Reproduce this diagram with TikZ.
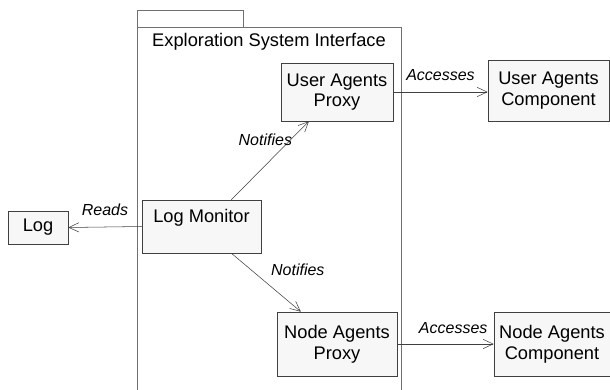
\documentclass[tikz,border=0pt]{standalone}
\usepackage{fontspec}
\setmainfont{Liberation Sans}
\usetikzlibrary{arrows.meta,calc}
\definecolor{boxfill}{HTML}{F7F7F7}
\definecolor{boxline}{HTML}{404040}
\definecolor{pkgline}{HTML}{707070}
\tikzset{
  comp/.style={draw=boxline, fill=boxfill, align=center, inner sep=2pt,
    font=\fontsize{13.7}{15.5}\selectfont},
  lbl/.style={font=\fontsize{12}{13}\selectfont\itshape, inner sep=1.5pt},
  dep/.style={draw=boxline, -{Straight Barb[length=7.5pt,width=7pt]}},
}
\begin{document}
\begin{tikzpicture}[x=0.75pt,y=-0.75pt]
  \useasboundingbox (0,0) rectangle (610,389);
  % package
  \draw[pkgline] (137,10) rectangle (243,27);
  \draw[pkgline] (137,395) -- (137,27) -- (401,27) -- (401,395);
  \node[font=\fontsize{13.7}{15.5}\selectfont] (pkg) at (269,42) {Exploration System Interface};
  % components
  \draw
    (337,92) node[comp, minimum width=112*0.75pt, minimum height=58*0.75pt] (uap) {User Agents\\Proxy}
    (548.5,90.5) node[comp, minimum width=121*0.75pt, minimum height=61*0.75pt] (uac) {User Agents\\Component}
    (38,227.5) node[comp, minimum width=60*0.75pt, minimum height=33*0.75pt] (log) {Log}
    (201.5,226.5) node[comp, minimum width=119*0.75pt, minimum height=53*0.75pt,
      label={[anchor=north, font=\fontsize{13.7}{15.5}\selectfont, inner sep=7pt]north:Log Monitor}] (lm) {}
    (337,344) node[comp, minimum width=120*0.75pt, minimum height=64*0.75pt] (nap) {Node Agents\\Proxy}
    (552,344) node[comp, minimum width=116*0.75pt, minimum height=64*0.75pt] (nac) {Node Agents\\Component};
  % dependencies
  \begin{scope}[every path/.style={dep}]
    \draw ($(lm.north)!0.5!(lm.north east)$) -- ($(uap.south)!0.5!(uap.south west)$)
      node[lbl, pos=0.76, anchor=east, xshift=3pt] {Notifies};
    \draw ($(lm.south)!0.5!(lm.south east)$) -- ($(nap.north)!0.6!(nap.north west)$)
      node[lbl, pos=0.29, anchor=west, xshift=13pt] {Notifies};
    \draw (lm.west) -- (log.east) node[lbl, midway, above, yshift=7pt] {Reads};
    \draw (uap.east) -- (uap.east -| uac.west) node[lbl, midway, above, yshift=7pt] {Accesses};
    \draw (nap.east) -- (nap.east -| nac.west) node[lbl, pos=0.58, above, yshift=6pt] {Accesses};
  \end{scope}
\end{tikzpicture}
\end{document}
